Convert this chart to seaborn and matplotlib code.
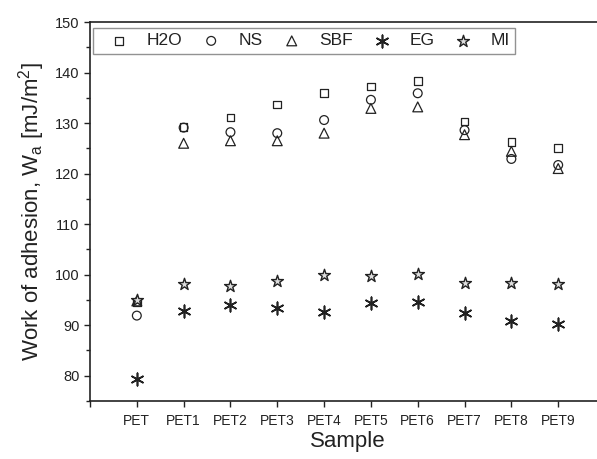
import matplotlib
matplotlib.use("Agg")
import matplotlib.pyplot as plt
import seaborn as sns
import pandas as pd

samples = ["PET", "PET1", "PET2", "PET3", "PET4", "PET5", "PET6", "PET7", "PET8", "PET9"]
h2o = [94.5, 129.2, 131.1, 133.7, 136.0, 137.2, 138.3, 130.3, 126.2, 125.1]
ns = [91.9, 129.1, 128.2, 128.0, 130.6, 134.6, 135.9, 128.6, 122.9, 121.7]
sbf = [94.8, 126.0, 126.5, 126.5, 128.0, 132.9, 133.2, 127.7, 124.4, 121.0]
eg = [79.3, 92.8, 93.9, 93.5, 92.7, 94.3, 94.5, 92.5, 90.9, 90.2]
mi = [94.9, 98.2, 97.8, 98.8, 100.0, 99.8, 100.1, 98.4, 98.3, 98.2]

series = {"H2O": h2o, "NS": ns, "SBF": sbf, "EG": eg, "MI": mi}

sns.set_theme(style="ticks")
plt.rcParams["font.family"] = ["Liberation Sans", "DejaVu Sans"]
plt.rcParams["mathtext.fontset"] = "custom"
plt.rcParams["mathtext.rm"] = "Liberation Sans"
plt.rcParams["mathtext.it"] = "Liberation Sans"

fig = plt.figure(figsize=(5.97, 4.59), dpi=100)
ax = fig.add_axes([90/597, 1-401/459, 515/597, 379/459])

styles = {
    "H2O": dict(marker="s", s=30, facecolors="none", edgecolors="#222222", linewidths=0.9),
    "NS": dict(marker="o", s=40, facecolors="none", edgecolors="#222222", linewidths=0.9),
    "SBF": dict(marker="^", s=50, facecolors="none", edgecolors="#222222", linewidths=0.9),
    "EG": dict(marker=(6, 2, 0), s=80, color="#222222", linewidths=1.2),
    "MI": dict(marker="*", s=80, facecolors="#dddddd", edgecolors="#222222", linewidths=1.0),
}

xpos = list(range(len(samples)))
for name, vals in series.items():
    df = pd.DataFrame({"x": xpos, "y": vals})
    sns.scatterplot(data=df, x="x", y="y", ax=ax, label=name, zorder=3, **styles[name])

ax.set_xlim(-1, 10)
ax.set_ylim(75, 150)
ax.set_xticks(list(range(-1, 11)))
ax.set_xticklabels([""] + samples + [""], fontsize=10, color="#222222")
ax.set_yticks([80, 90, 100, 110, 120, 130, 140, 150])
ax.set_yticks([75, 85, 95, 105, 115, 125, 135, 145], minor=True)
ax.tick_params(axis="y", which="major", length=4.5, width=1, labelsize=10.5, colors="#222222", direction="out", pad=3)
ax.tick_params(axis="y", which="minor", length=3, width=1, colors="#222222", direction="out")
ax.tick_params(axis="x", which="major", length=4.5, width=1, colors="#222222", direction="out", pad=5)
for side in ["left", "bottom", "top", "right"]:
    ax.spines[side].set_color("#222222")
    ax.spines[side].set_linewidth(1.2)

ax.set_xlabel("Sample", fontsize=16, color="#222222", labelpad=2)
ax.set_ylabel("Work of adhesion, W$_\\mathregular{a}$ [mJ/m$^\\mathregular{2}$]", fontsize=16, color="#222222", labelpad=6)

leg = ax.legend(loc="upper left", bbox_to_anchor=(0.006, 0.984), borderaxespad=0, ncol=5,
                fontsize=12.5, frameon=True, fancybox=False, handletextpad=0.4,
                columnspacing=0.45, handlelength=2.4, borderpad=0.3)
leg.get_frame().set_edgecolor("#777777")
leg.get_frame().set_linewidth(1.0)
for t in leg.get_texts():
    t.set_color("#222222")

fig.savefig("out.png", dpi=100)
